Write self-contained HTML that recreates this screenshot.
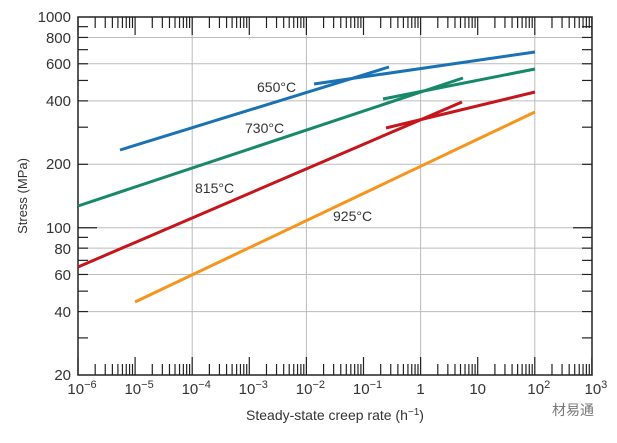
<!DOCTYPE html>
<html><head><meta charset="utf-8"><style>
body{margin:0;background:#fff}
svg text{font-family:"Liberation Sans",sans-serif;fill:#333}
</style></head><body>
<svg id="s" width="617" height="438" xmlns="http://www.w3.org/2000/svg">
<g id="grid" stroke="#bbb" stroke-width="1"></g>
<g id="ticks" stroke="#222" stroke-width="1.2"></g>
<rect x="78" y="17" width="514" height="358" fill="none" stroke="#222" stroke-width="1.5"/>
<g stroke-width="3" fill="none" stroke-linecap="butt">
<line x1="120" y1="150" x2="389" y2="67" stroke="#1a72b5"/>
<line x1="314" y1="84" x2="535" y2="52" stroke="#1a72b5"/>
<line x1="78" y1="206" x2="463" y2="78" stroke="#17886a"/>
<line x1="383" y1="99" x2="535" y2="69" stroke="#17886a"/>
<line x1="78" y1="267" x2="462" y2="102" stroke="#c4161c"/>
<line x1="386" y1="128" x2="535" y2="92" stroke="#c4161c"/>
<line x1="135" y1="302" x2="535" y2="112" stroke="#f7941d"/>
</g>
<g font-size="14">
<text x="257" y="92">650°C</text>
<text x="245" y="133">730°C</text>
<text x="195" y="193">815°C</text>
<text x="333" y="221">925°C</text>
</g>
<g font-size="15" text-anchor="end">
<text x="71" y="22">1000</text><text x="71" y="43">800</text><text x="71" y="69">600</text>
<text x="71" y="106">400</text><text x="71" y="169">200</text><text x="71" y="233">100</text>
<text x="71" y="254">80</text><text x="71" y="280">60</text><text x="71" y="317">40</text>
<text x="71" y="380">20</text>
</g>
<g id="xl" font-size="15" text-anchor="middle"></g>
<text x="335" y="420" font-size="14" text-anchor="middle">Steady-state creep rate (h<tspan dy="-5" font-size="10">−1</tspan><tspan dy="5">)</tspan></text>
<text transform="translate(27,196) rotate(-90)" font-size="13" text-anchor="middle">Stress (MPa)</text>
<text x="552" y="415" font-size="14" fill="#777" style="fill:#777" font-family="Liberation Sans, Noto Sans CJK SC, sans-serif">材易通</text>
</svg>
<script>
var ns="http://www.w3.org/2000/svg";
function L(g,x1,y1,x2,y2){var l=document.createElementNS(ns,"line");l.setAttribute("x1",x1);l.setAttribute("y1",y1);l.setAttribute("x2",x2);l.setAttribute("y2",y2);document.getElementById(g).appendChild(l);}
function X(e){return 78+(e+6)*57.1}
function Y(v){return 375-(Math.log10(v)-Math.log10(20))*210.7}
[-4,-2,0,2].forEach(function(e){L("grid",X(e),17,X(e),375)});
[40,60,80,100,200,400,600,800].forEach(function(v){L("grid",78,Y(v),592,Y(v))});
for(var d=-6;d<=3;d++){var x=X(d);L("ticks",x,375,x,357);L("ticks",x,17,x,35);
 if(d<3)for(var k=2;k<=9;k++){var xx=X(d+Math.log10(k));L("ticks",xx,375,xx,364);L("ticks",xx,17,xx,28);}}
[30,40,50,60,70,80,90,200,300,400,500,600,700,800,900].forEach(function(v){var y=Y(v);L("ticks",78,y,88,y);L("ticks",592,y,582,y);});
[100].forEach(function(v){var y=Y(v);L("ticks",78,y,97,y);L("ticks",592,y,573,y);});
var labs=["10<tspan dy='-6' font-size='11'>−6</tspan>","10<tspan dy='-6' font-size='11'>−5</tspan>","10<tspan dy='-6' font-size='11'>−4</tspan>","10<tspan dy='-6' font-size='11'>−3</tspan>","10<tspan dy='-6' font-size='11'>−2</tspan>","10<tspan dy='-6' font-size='11'>−1</tspan>","1","10","10<tspan dy='-6' font-size='11'>2</tspan>","10<tspan dy='-6' font-size='11'>3</tspan>"];
var g=document.getElementById("xl");
labs.forEach(function(t,i){var el=document.createElementNS(ns,"text");el.setAttribute("x",X(i-6)+(t.length>3?4:0));el.setAttribute("y",394);el.innerHTML=t;g.appendChild(el);});
</script>
</body></html>
